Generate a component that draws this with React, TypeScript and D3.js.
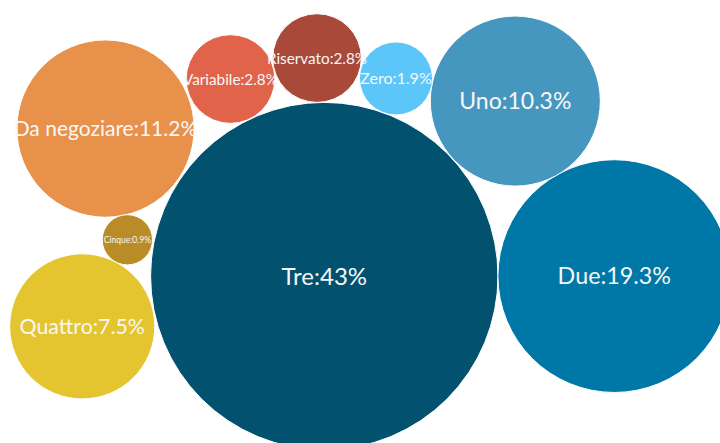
import React from "react";
import * as d3 from "d3";

const categories = ["Tre", "Due", "Uno", "Da negoziare", "Quattro", "Cinque", "Variabile", "Riservato", "Zero"];
const values = [43, 19.3, 10.3, 11.2, 7.5, 0.9, 2.8, 2.8, 1.9];
// packed layout position of each bubble centre, in layout units (0..1000 x 0..615)
const layoutX = [450.4, 853.2, 715.7, 146.5, 114.2, 176.9, 320.1, 440.3, 550.0];
const layoutY = [383.3, 383.3, 140.3, 178.5, 453.1, 332.9, 109.7, 80.6, 108.9];

const colors: Record<string, string> = {
  Tre: "#02516f",
  Due: "#0078a7",
  Uno: "#4597bf",
  "Da negoziare": "#e8914a",
  Quattro: "#e5c52f",
  Cinque: "#b98c27",
  Variabile: "#e0634a",
  Riservato: "#a8493a",
  Zero: "#5cc6f8",
};
const labelFont: Record<string, number> = {
  Tre: 24,
  Due: 23.3,
  Uno: 23,
  "Da negoziare": 21,
  Quattro: 21.3,
  Cinque: 8.5,
  Variabile: 15.3,
  Riservato: 15.3,
  Zero: 16,
};

const W = 720;
const H = 443;

export default function App() {
  const x = d3.scaleLinear().domain([0, 1000]).range([0, W]);
  const y = d3.scaleLinear().domain([0, 615]).range([0, H]);
  const r = d3.scaleSqrt().domain([0, 43]).range([0, 173.7]);
  const fmt = (v: number) => `${v}%`;

  return (
    <div style={{ position: "fixed", left: 0, top: 0, width: W, height: H, background: "#fff" }}>
      <svg width={W} height={H} style={{ display: "block" }}>
        <g className="bubbles">
          {categories.map((c, i) => (
            <circle
              key={c}
              cx={x(layoutX[i])}
              cy={y(layoutY[i])}
              r={r(values[i])}
              fill={colors[c]}
              stroke="#fff"
              strokeWidth={1}
            />
          ))}
        </g>
        <g className="labels">
          {categories.map((c, i) => (
            <text
              key={c}
              x={x(layoutX[i])}
              y={y(layoutY[i])}
              textAnchor="middle"
              dy="0.36em"
              fill="#f7f7f7"
              fontFamily="Lato, 'Open Sans', sans-serif"
              fontSize={labelFont[c]}
            >
              {`${c}:${fmt(values[i])}`}
            </text>
          ))}
        </g>
      </svg>
    </div>
  );
}
